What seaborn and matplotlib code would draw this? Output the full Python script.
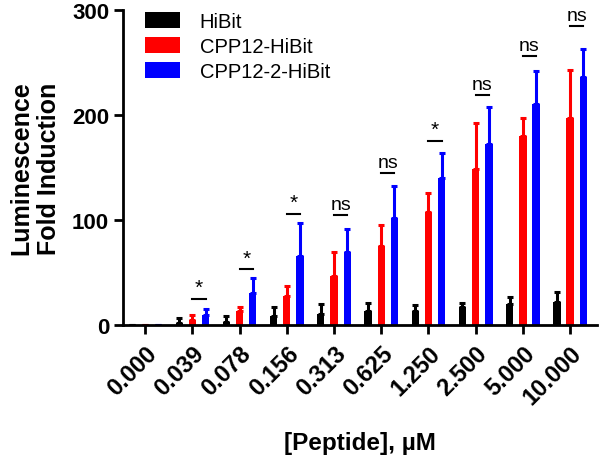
import numpy as np
import pandas as pd
import seaborn as sns
import matplotlib.pyplot as plt

# ------------------------------- data ------------------------------- #
conc = ["0.000", "0.039", "0.078", "0.156", "0.313",
        "0.625", "1.250", "2.500", "5.000", "10.000"]
groups = ["HiBit", "CPP12-HiBit", "CPP12-2-HiBit"]

hibit_mean = [0, 2, 3, 9, 11, 13, 13.5, 17, 20.5, 22.5]
hibit_sd = [0, 5, 6, 8.5, 9, 8.5, 5.5, 4.5, 6.5, 9]
cpp12_mean = [0, 5, 13.5, 28, 47, 75.5, 108, 149, 180, 197]
cpp12_sd = [0, 4.5, 4, 9, 23, 20, 18, 43, 17, 46]
cpp12_2_mean = [0, 9.5, 31, 66, 70, 102, 140, 172, 211, 236]
cpp12_2_sd = [0, 5.5, 14, 31, 22, 30, 24, 36, 31, 27]

sig_label = ["", "*", "*", "*", "ns", "ns", "*", "ns", "ns", "ns"]
sig_height = [0, 25, 53, 106, 105, 145, 175, 219, 256, 285]

# ------------------------------ settings ---------------------------- #
colors = ["#000000", "#ff0000", "#0000ff"]
plt.rcParams['font.family'] = ['Liberation Sans', 'DejaVu Sans']

df = pd.DataFrame({
    "conc": conc * 3,
    "value": hibit_mean + cpp12_mean + cpp12_2_mean,
    "peptide": np.repeat(groups, len(conc)),
})
sds = [hibit_sd, cpp12_sd, cpp12_2_sd]

fig = plt.figure(figsize=(6, 4.6), dpi=100)
ax = fig.add_axes([0.205, 0.291, 0.79, 0.685])

sns.barplot(data=df, x="conc", y="value", hue="peptide", order=conc,
            hue_order=groups, palette=colors, errorbar=None, width=0.84,
            gap=0.45, saturation=1, ax=ax)

# one-sided SD error bars
for cont, sd, c in zip(ax.containers, sds, colors):
    xs = [b.get_x() + b.get_width() / 2 for b in cont]
    hs = [b.get_height() for b in cont]
    ax.errorbar(xs, hs, yerr=[np.zeros(len(sd)), sd], fmt='none', ecolor=c,
                elinewidth=2.2, capsize=2, capthick=2.2, zorder=1)

# significance marks (CPP12 vs CPP12-2)
red_bars = ax.containers[1]
blue_bars = ax.containers[2]
for i, (lab, h) in enumerate(zip(sig_label, sig_height)):
    if not lab:
        continue
    x0 = red_bars[i].get_x() + red_bars[i].get_width() / 2
    x1 = blue_bars[i].get_x() + blue_bars[i].get_width() / 2
    ax.plot([x0, x1], [h, h], color="black", lw=1.5)
    ax.text((x0 + x1) / 2, h + 2, lab, ha="center", va="bottom",
            fontsize=14 if lab == "ns" else 15)

ax.set_ylim(0, 300)
ax.set_xlim(-0.47, 9.57)
ax.set_yticks([0, 100, 200, 300])
ax.set_xlabel("[Peptide], µM", fontsize=17.5, fontweight="bold", labelpad=16)
ax.set_ylabel("Luminescence\nFold Induction", fontsize=18, fontweight="bold",
              labelpad=8)
sns.despine(ax=ax)
for s in ["left", "bottom"]:
    ax.spines[s].set_linewidth(2)
ax.tick_params(axis="both", direction="out", width=2, length=6.5)
ax.tick_params(axis="y", labelsize=16)
ax.tick_params(axis="x", labelsize=17, pad=5)
for t in ax.get_yticklabels():
    t.set_fontweight("bold")
for t in ax.get_xticklabels():
    t.set_fontweight("bold")
    t.set_rotation(45)
    t.set_ha("right")
    t.set_rotation_mode("anchor")

leg = ax.legend(loc="upper left", bbox_to_anchor=(0.009, 1.052), frameon=False,
                fontsize=14.5, handlelength=1.7, handleheight=0.85,
                labelspacing=0.3, handletextpad=1.0)

fig.savefig("out.png", dpi=100)
